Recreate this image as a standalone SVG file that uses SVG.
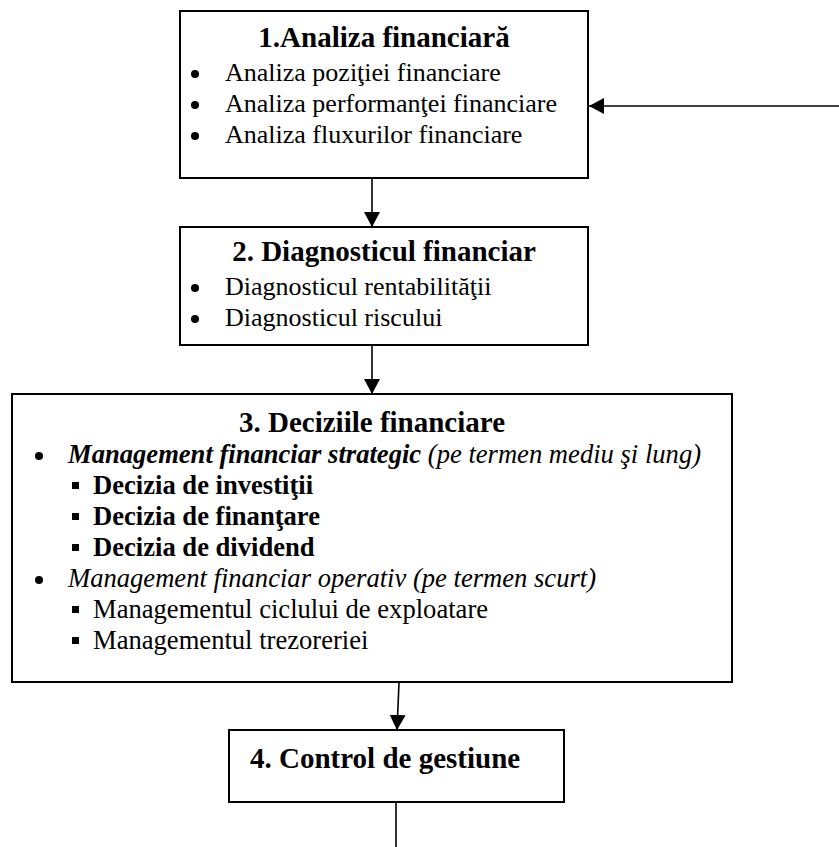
<svg xmlns="http://www.w3.org/2000/svg" width="839" height="847" viewBox="0 0 839 847">
<style>
.box{fill:#fff;stroke:#000;stroke-width:2}
.t{font-family:"Liberation Serif","Times New Roman",serif;font-size:26px;fill:#000}
.t3{font-size:26.6px}
.h{font-family:"Liberation Serif","Times New Roman",serif;font-size:29px;font-weight:bold;fill:#000}
.b{font-weight:bold}
.i{font-style:italic}
.ln{stroke:#000;stroke-width:1.6;fill:none}
.dot{fill:#000}
</style>
<defs>
<marker id="ah" markerWidth="16" markerHeight="16" refX="15" refY="8" orient="auto" markerUnits="userSpaceOnUse">
<path d="M0,0 L15,8 L0,16 Z" fill="#000"/>
</marker>
</defs>
<rect width="839" height="847" fill="#fff"/>
<g id="node1">
<rect class="box" x="180" y="11" width="408" height="167"/>
<text class="h" x="384" y="47" text-anchor="middle">1.Analiza financiară</text>
<circle class="dot" cx="195" cy="74" r="4"/>
<circle class="dot" cx="195" cy="105" r="4"/>
<circle class="dot" cx="195" cy="136" r="4"/>
<text class="t" x="225" y="81">Analiza poziţiei financiare</text>
<text class="t" x="225" y="112">Analiza performanţei financiare</text>
<text class="t" x="225" y="143">Analiza fluxurilor financiare</text>
</g>
<g id="node2">
<rect class="box" x="180" y="227" width="408" height="118"/>
<text class="h" x="384" y="261" text-anchor="middle">2. Diagnosticul financiar</text>
<circle class="dot" cx="195" cy="288" r="4"/>
<circle class="dot" cx="195" cy="319" r="4"/>
<text class="t" x="225" y="295">Diagnosticul rentabilităţii</text>
<text class="t" x="225" y="326">Diagnosticul riscului</text>
</g>
<g id="node3">
<rect class="box" x="12" y="394" width="720" height="288"/>
<text class="h" x="372" y="432" text-anchor="middle">3. Deciziile financiare</text>
<circle class="dot" cx="39" cy="456" r="4"/>
<text class="t t3 i" x="68" y="463"><tspan class="b">Management financiar strategic</tspan> (pe termen mediu şi lung)</text>
<rect class="dot" x="72" y="482" width="7" height="7"/>
<rect class="dot" x="72" y="513" width="7" height="7"/>
<rect class="dot" x="72" y="544" width="7" height="7"/>
<text class="t t3 b" x="93" y="494">Decizia de investiţii</text>
<text class="t t3 b" x="93" y="525">Decizia de finanţare</text>
<text class="t t3 b" x="93" y="556">Decizia de dividend</text>
<circle class="dot" cx="39" cy="580" r="4"/>
<text class="t t3 i" x="68" y="587">Management financiar operativ (pe termen scurt)</text>
<rect class="dot" x="72" y="606" width="7" height="7"/>
<rect class="dot" x="72" y="637" width="7" height="7"/>
<text class="t t3" x="93" y="618">Managementul ciclului de exploatare</text>
<text class="t t3" x="93" y="649">Managementul trezoreriei</text>
</g>
<g id="node4">
<rect class="box" x="229" y="730" width="335" height="72"/>
<text class="h" x="250" y="768">4. Control de gestiune</text>
</g>
<g id="connectors">
<line class="ln" x1="372" y1="179" x2="372" y2="227" marker-end="url(#ah)"/>
<line class="ln" x1="372" y1="346" x2="372" y2="394" marker-end="url(#ah)"/>
<line class="ln" x1="399" y1="683" x2="397" y2="730" marker-end="url(#ah)"/>
<line class="ln" x1="396" y1="803" x2="396" y2="847"/>
<line class="ln" x1="839" y1="106" x2="589" y2="106" marker-end="url(#ah)"/>
</g>
</svg>
